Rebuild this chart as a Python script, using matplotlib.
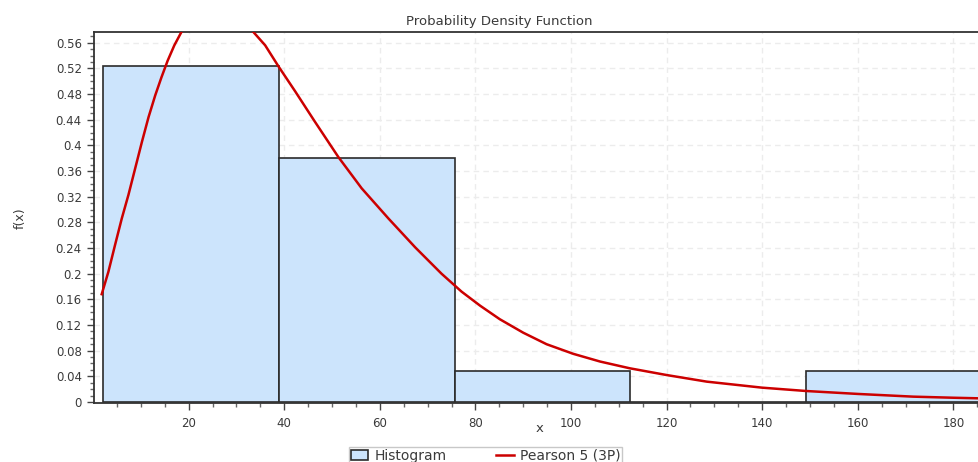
import matplotlib
matplotlib.use("Agg")
import matplotlib.pyplot as plt
from matplotlib.ticker import MultipleLocator
from matplotlib.patches import Patch
from matplotlib.lines import Line2D

plt.rcParams['font.family'] = ['DejaVu Sans']

# Histogram bins (relative frequencies)
bin_edges = [2.1, 38.88, 75.66, 112.44, 149.22, 186.0]
bin_freq = [0.5238, 0.3810, 0.0476, 0.0, 0.0476]

# Fitted Pearson 5 (3P) density, sampled points
curve_x = [1.8, 3.2, 4.6, 6.0, 7.4, 8.8, 10.2, 11.6, 13.0, 14.3, 15.6,
           17.0, 18.5, 22.0, 26.0, 30.0, 33.5, 36.0, 38.8, 42.3, 46.4,
           51.3, 56.2, 61.8, 67.4, 72.9, 77.1, 81.0, 85.1, 90.0, 94.9,
           100.5, 106.1, 112.3, 120.0, 128.4, 140.0, 149.2, 160.1, 171.6,
           180.0, 186.5]
curve_y = [0.168, 0.203, 0.245, 0.286, 0.323, 0.364, 0.405, 0.444, 0.478,
           0.506, 0.532, 0.556, 0.577, 0.602, 0.611, 0.600, 0.577, 0.556,
           0.523, 0.484, 0.437, 0.382, 0.333, 0.286, 0.241, 0.200, 0.172,
           0.150, 0.129, 0.108, 0.090, 0.075, 0.063, 0.0525, 0.042,
           0.0317, 0.0223, 0.0171, 0.0125, 0.0083, 0.0066, 0.0055]

W, H = 979, 462
fig = plt.figure(figsize=(W / 100, H / 100), dpi=100)
ax = fig.add_axes([94.3 / W, 1 - 403 / H, (990 - 94.3) / W, (403 - 32) / H])

text_color = '#3a3a3a'
bar_face = '#cce4fc'
bar_edge = '#2b2b2b'

lefts = bin_edges[:-1]
widths = [b - a for a, b in zip(bin_edges[:-1], bin_edges[1:])]
ax.bar(lefts, bin_freq, width=widths, align='edge', color=bar_face,
       edgecolor=bar_edge, linewidth=1.2, zorder=2)
ax.plot(curve_x, curve_y, color='#cc0000', linewidth=1.8, zorder=3,
        solid_joinstyle='round')

ax.set_xlim(0.25, (990 - 93.1) / 4.779)
ax.set_ylim(-0.0016, 0.5767)

ax.xaxis.set_major_locator(MultipleLocator(20))
ax.xaxis.set_minor_locator(MultipleLocator(5))
ax.yaxis.set_major_locator(MultipleLocator(0.04))
ax.yaxis.set_minor_locator(MultipleLocator(0.01))

ax.yaxis.set_major_formatter(plt.FuncFormatter(
    lambda v, p: '0' if abs(v) < 1e-9 else ('%.2f' % v).rstrip('0')))
ax.xaxis.set_major_formatter(plt.FuncFormatter(
    lambda v, p: '' if v <= 0 else '%d' % v))

ax.tick_params(axis='both', which='major', direction='out', length=5,
               width=1, color='#444444', labelsize=8.5, labelcolor=text_color)
ax.tick_params(axis='both', which='minor', direction='out', length=3,
               width=1, color='#666666')
ax.tick_params(axis='x', pad=5)
ax.tick_params(axis='y', pad=4)

ax.grid(True, which='major', color='#ececec', linestyle=(0, (4, 3)),
        linewidth=1, zorder=0)
ax.set_axisbelow(True)

for side in ('left', 'bottom', 'top'):
    ax.spines[side].set_color('#333333')
    ax.spines[side].set_linewidth(1.3)
ax.spines['right'].set_visible(False)

fig.text(499 / W, 1 - 22 / H, 'Probability Density Function', ha='center',
         va='center', fontsize=9.5, color=text_color)
fig.text(540 / W, 1 - 428 / H, 'x', ha='center', va='center', fontsize=9.5,
         color=text_color)
fig.text(20 / W, 1 - 218 / H, 'f(x)', ha='center', va='center', fontsize=9,
         color=text_color, rotation=90)

handles = [Patch(facecolor=bar_face, edgecolor=bar_edge, linewidth=1.2),
           Line2D([0], [0], color='#cc0000', linewidth=1.8)]
leg = fig.legend(handles, ['Histogram', 'Pearson 5 (3P)'], ncol=2,
                 loc='upper left', bbox_to_anchor=(349 / W, 1 - 447 / H),
                 bbox_transform=fig.transFigure, frameon=True, fancybox=False,
                 fontsize=10, handlelength=1.25, handleheight=0.7,
                 handletextpad=0.45, columnspacing=3.6, borderpad=0.12,
                 borderaxespad=0)
leg.get_frame().set_edgecolor('#bbbbbb')
leg.get_frame().set_linewidth(1)
for t in leg.get_texts():
    t.set_color(text_color)

fig.savefig('out.png', dpi=100)
